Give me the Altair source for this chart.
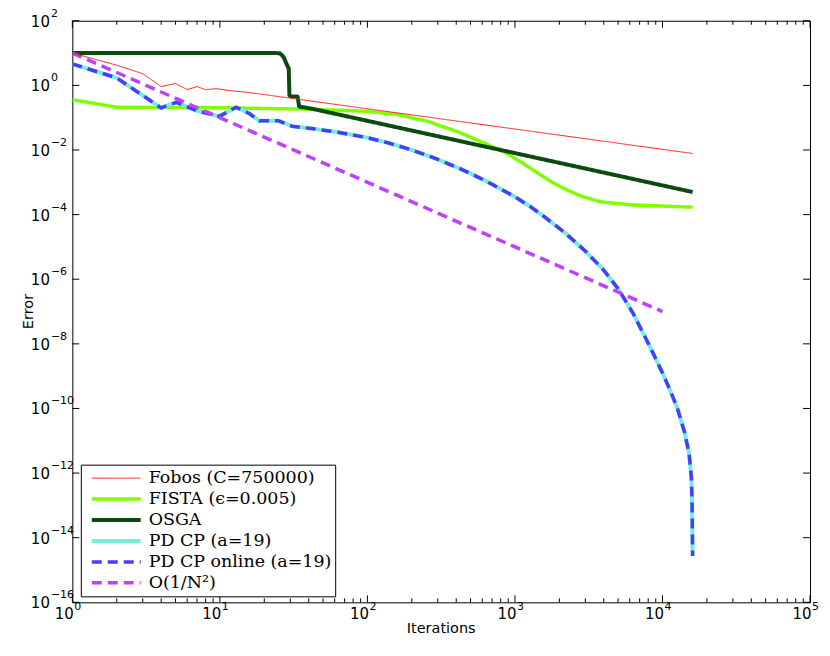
import altair as alt
import pandas as pd

# ---------------- data ----------------
series_names = ["Fobos (C=750000)", "FISTA (ϵ=0.005)", "OSGA", "PD CP (a=19)",
                "PD CP online (a=19)", "O(1/N²)"]
series_colors = ["#ff1a1a", "#80ff00", "#0d4a10", "#70f0d8", "#4a3cff", "#bf40ff"]
series_widths = [1, 3.5, 4, 4, 3.5, 3.5]
series_dashes = [[1, 0], [1, 0], [1, 0], [1, 0], [10, 6], [10, 6]]

fobos_x = [1, 2, 3, 4, 5, 6, 7, 8, 9.5, 11.6, 15.8, 16000]
fobos_y = [10, 4.2, 2.3, 0.92, 1.14, 0.74, 0.92, 0.74, 0.79, 0.69, 0.6, 0.0078]

fista_x = [1, 2, 10, 42, 100, 158, 251, 417, 631, 851, 1122, 1445, 1820, 2290, 2818, 3800,
           6166, 16000]
fista_y = [0.36, 0.21, 0.204, 0.182, 0.158, 0.126, 0.079, 0.0355, 0.0158, 0.0085, 0.004,
           0.00186, 0.00095, 0.00056, 0.00037, 0.00025, 0.0002, 0.00017]

osga_x = [1, 24, 25.5, 26.6, 27.3, 28, 29.3, 29.6, 30.5, 33.6, 34.5, 42, 16000]
osga_y = [10, 10, 9.8, 8.3, 6.9, 5.1, 3.3, 0.49, 0.45, 0.45, 0.22, 0.19, 0.0005]

pdcp_x = [1, 2, 2.45, 4, 5.06, 6.9, 9.9, 12.9, 15.8, 18.5, 25, 31, 42, 63, 100, 141, 200, 288,
          417, 631, 1000, 1259, 1585, 2188, 3020, 3981, 5012, 6310, 7943, 10000, 11220, 12590,
          14130, 15140, 15670, 15850, 16000]
pdcp_y = [4.6, 1.7, 0.91, 0.2, 0.3, 0.166, 0.11, 0.21, 0.135, 0.08, 0.08, 0.054, 0.046, 0.0355,
          0.024, 0.0162, 0.01, 0.0055, 0.00275, 0.00112, 3.55e-4, 1.82e-4, 8.5e-5, 2.7e-5,
          7.2e-6, 1.95e-6, 5e-7, 8.9e-8, 1.12e-8, 1.26e-9, 3.8e-10, 1.05e-10, 1.8e-11, 4e-12,
          8e-13, 1.6e-13, 2.7e-15]

pdcp_online_x = pdcp_x
pdcp_online_y = pdcp_y

rate_x = [1, 10000]
rate_y = [10, 1e-7]

x_tick_exps = [0, 1, 2, 3, 4, 5]
y_tick_exps = [2, 0, -2, -4, -6, -8, -10, -12, -14, -16]
x_minor_mult = [2, 3, 4, 5, 6, 7, 8, 9]

# ---------------- tables ----------------
rows = []
for name, xs, ys in [
    (series_names[0], fobos_x, fobos_y),
    (series_names[1], fista_x, fista_y),
    (series_names[2], osga_x, osga_y),
    (series_names[3], pdcp_x, pdcp_y),
    (series_names[4], pdcp_online_x, pdcp_online_y),
    (series_names[5], rate_x, rate_y),
]:
    for xv, yv in zip(xs, ys):
        rows.append({"series": name, "x": xv, "y": yv})
df = pd.DataFrame(rows)

def sup(e):
    return str(e).replace("-", "\u2212")

df_xmaj = pd.DataFrame({"v": [10.0 ** e for e in x_tick_exps], "e": [sup(e) for e in x_tick_exps]})
df_xmin = pd.DataFrame({"v": [m * 10.0 ** k for k in x_tick_exps[:-1] for m in x_minor_mult]})
df_ymaj = pd.DataFrame({"v": [10.0 ** e for e in y_tick_exps], "e": [sup(e) for e in y_tick_exps]})

W, H = 739.5, 583
xscale = alt.Scale(type="log", domain=[1, 100000], nice=False)
yscale = alt.Scale(type="log", domain=[1e-16, 100], nice=False)

leg = alt.Legend(title=None, orient="none", legendX=8.5, legendY=445,
                 strokeColor="black", fillColor="white", padding=3, cornerRadius=0,
                 symbolType="stroke", symbolSize=2401, symbolOffset=6, labelOffset=6,
                 labelFont="DejaVu Serif", labelFontSize=17.5, labelColor="black",
                 clipHeight=21, rowPadding=0, labelLimit=400)

color_enc = alt.Color("series:N", scale=alt.Scale(domain=series_names, range=series_colors),
                      legend=leg)
dash_enc = alt.StrokeDash("series:N", scale=alt.Scale(domain=series_names, range=series_dashes),
                          legend=leg)
width_enc = alt.StrokeWidth("series:N",
                            scale=alt.Scale(type="ordinal", domain=series_names, range=series_widths),
                            legend=leg)

def line_layer(name):
    return alt.Chart(df).transform_filter(alt.datum.series == name).mark_line(
        clip=True, strokeJoin="round").encode(
        x=alt.X("x:Q", scale=xscale, axis=None),
        y=alt.Y("y:Q", scale=yscale, axis=None),
        color=color_enc, strokeDash=dash_enc, strokeWidth=width_enc)

draw_order = [1, 2, 3, 4, 5, 0]
lines = [line_layer(series_names[i]) for i in draw_order]

def xticks(d, y0, y1):
    return alt.Chart(d).mark_rule(color="black", strokeWidth=1).encode(
        x=alt.X("v:Q", scale=xscale, axis=None), y=alt.value(y0), y2=alt.value(y1))

def yticks(d, x0, x1):
    return alt.Chart(d).mark_rule(color="black", strokeWidth=1).encode(
        y=alt.Y("v:Q", scale=yscale, axis=None), x=alt.value(x0), x2=alt.value(x1))

ticks = [
    xticks(df_xmaj, H, H - 7), xticks(df_xmaj, 0, 7),
    xticks(df_xmin, H, H - 4), xticks(df_xmin, 0, 4),
    yticks(df_ymaj, 0, 7), yticks(df_ymaj, W, W - 7),
]

FONT = "DejaVu Sans"
labels = [
    alt.Chart(df_xmaj).mark_text(align="right", baseline="middle", dx=1.5, font=FONT,
                                 fontSize=15, color="black").encode(
        x=alt.X("v:Q", scale=xscale, axis=None), y=alt.value(H + 11.5), text=alt.value("10")),
    alt.Chart(df_xmaj).mark_text(align="left", baseline="middle", dx=2, font=FONT,
                                 fontSize=11, color="black").encode(
        x=alt.X("v:Q", scale=xscale, axis=None), y=alt.value(H + 4.5), text="e:N"),
    alt.Chart(df_ymaj).mark_text(align="right", baseline="middle", dy=1, font=FONT,
                                 fontSize=15, color="black").encode(
        y=alt.Y("v:Q", scale=yscale, axis=None), x=alt.value(-22.5), text=alt.value("10")),
    alt.Chart(df_ymaj).mark_text(align="left", baseline="middle", dy=-7, font=FONT,
                                 fontSize=11, color="black").encode(
        y=alt.Y("v:Q", scale=yscale, axis=None), x=alt.value(-21.5), text="e:N"),
    alt.Chart(pd.DataFrame({"t": ["Iterations"]})).mark_text(
        align="center", baseline="middle", font=FONT, fontSize=14.5, color="black").encode(
        x=alt.value(W / 2), y=alt.value(H + 27), text="t:N"),
    alt.Chart(pd.DataFrame({"t": ["Error"]})).mark_text(
        align="center", baseline="middle", angle=270, font=FONT, fontSize=14.5,
        color="black").encode(
        x=alt.value(-43.5), y=alt.value(H / 2), text="t:N"),
]

chart = alt.layer(*lines, *ticks, *labels).properties(
    width=W, height=H,
    padding={"left": 64.5, "top": 12, "right": 12, "bottom": 40},
    autosize=alt.AutoSizeParams(type="none"),
    background="white",
).configure_view(stroke="black", strokeWidth=1)

chart.save("out.html", embed_options={"renderer": "svg", "actions": False})
